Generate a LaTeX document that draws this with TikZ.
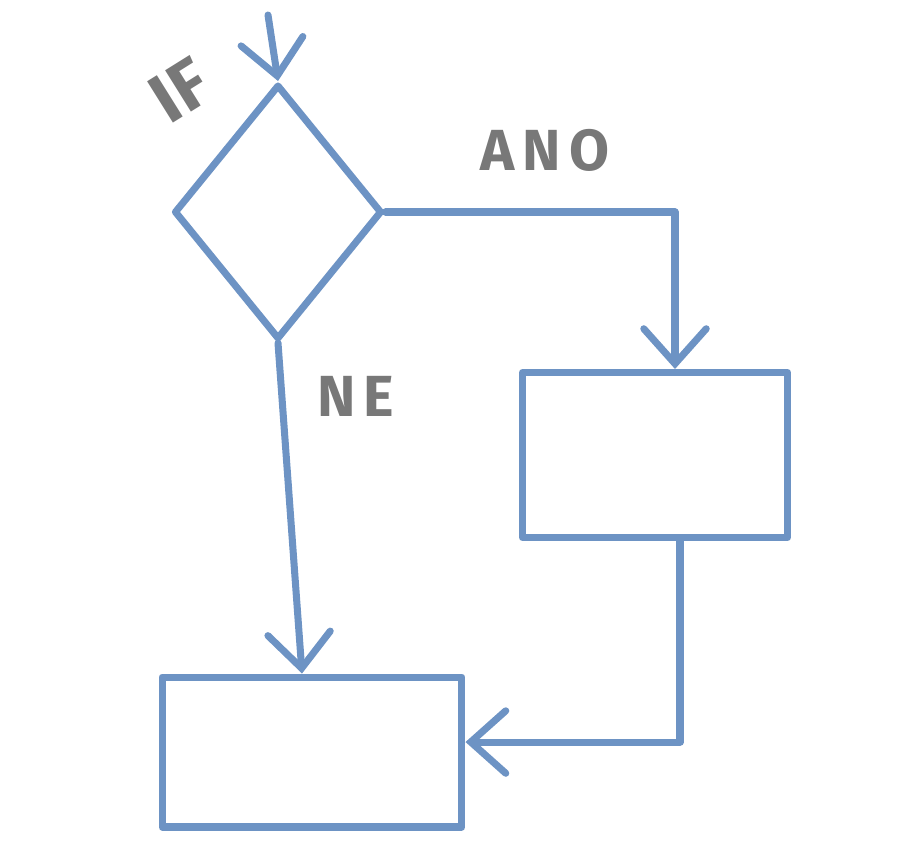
\documentclass[tikz,border=0pt]{standalone}
\usepackage{fontspec}
\newfontfamily\handfont[LetterSpace=14]{Fira Sans}
\newfontfamily\tightfont{Fira Sans}
\usetikzlibrary{shapes.geometric, arrows.meta}
\definecolor{pen}{HTML}{6D93C4}
\definecolor{chalk}{HTML}{787878}
\begin{document}
\begin{tikzpicture}[
    x=0.02cm, y=-0.02cm,
    decision/.style={draw=pen, diamond, line width=4pt, line join=round, inner sep=0pt, minimum width=4.16cm, minimum height=5.1cm},
    block/.style={draw=pen, rectangle, line width=4pt, line join=round, inner sep=0pt},
    flow/.style={draw=pen, line width=4pt, line cap=round, line join=round, -{Straight Barb[length=0.7cm, width=1.25cm, line cap=round]}},
    lbl/.style={text=chalk, font=\handfont\bfseries\fontsize{33}{36}\selectfont},
  ]
    \useasboundingbox (0,0) rectangle (911,863);
    % Decision and the two branches
    \coordinate (entry) at (268,15);
    \node[decision] (ifdec) at (278,212) {};
    \node[block, minimum width=5.3cm, minimum height=3.3cm] (anobox) at (655,455) {};
    \node[block, minimum width=6cm, minimum height=3cm] (nebox) at (312,752) {};

    % Labels
    \node[lbl, rotate=32, font=\tightfont\bfseries\fontsize{40}{44}\selectfont] (iflbl) at (180,90) {IF};
    \node[lbl] (anolbl) at (545,150) {ANO};
    \node[lbl] (nelbl) at (356,396) {NE};

    % Connectors
    \draw[flow] (entry) -- (ifdec.north);
    \draw[flow] (ifdec.east) -| ([xshift=0.4cm]anobox.north);
    \draw[flow] (ifdec.south) -- ([xshift=-0.2cm]nebox.north);
    \draw[flow] ([xshift=0.5cm]anobox.south) |- ([yshift=0.2cm]nebox.east);
  \end{tikzpicture}
\end{document}
